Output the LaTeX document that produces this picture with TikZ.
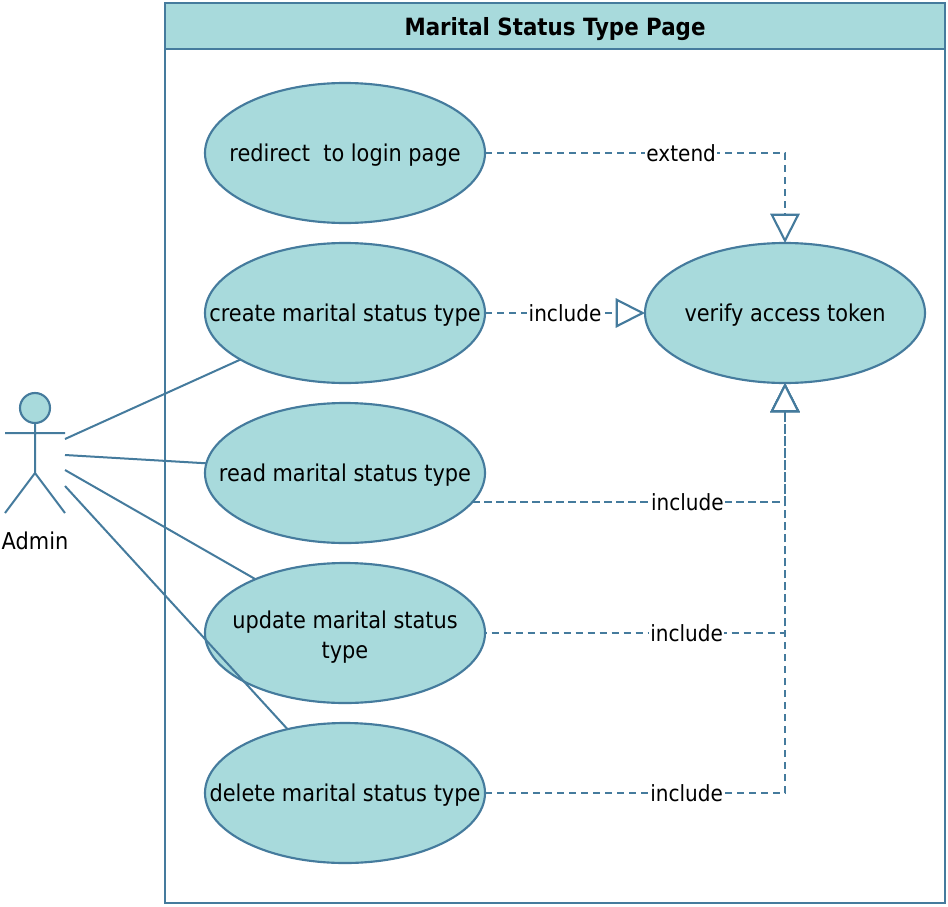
\documentclass[tikz,border=0pt]{standalone}
\usepackage{fontspec}
\setmainfont[FakeStretch=0.9]{DejaVu Sans}
\usetikzlibrary{shapes.geometric,arrows.meta}
\definecolor{fillc}{HTML}{A8DADC}
\definecolor{linec}{HTML}{457B9D}
\tikzset{x=0.75pt,y=-0.75pt,
 uc/.style={ellipse,draw=linec,fill=fillc,line width=1.6pt,outer sep=0pt,minimum width=210pt,minimum height=105pt,inner sep=-60pt,align=center,text depth=0pt,font=\fontsize{17.4}{22.5}\selectfont},
 assoc/.style={draw=linec,line width=1.5pt},
 dep/.style={draw=linec,line width=1.4pt,dash pattern=on 5.6pt off 3.4pt,-{Triangle[open,length=22pt,width=22pt,line width=1.6pt,fill=white]}},
 lab/.style={fill=white,inner xsep=1pt,inner ysep=1pt,text depth=0pt,font=\fontsize{16.7}{18}\selectfont},
 boxst/.style={draw=linec,line width=1.7pt,outer sep=0pt,minimum width=585pt,anchor=north west,inner sep=0pt}}
\begin{document}
\begin{tikzpicture}
\useasboundingbox (0,0) rectangle (948,906);
\node[boxst,fill=white,minimum height=675pt] (frame) at (165,3) {};
\node[boxst,fill=fillc,minimum height=34.5pt,text depth=0pt,font=\bfseries\fontsize{17.8}{20}\selectfont] (title) at (165,3) {Marital Status Type Page};
\node[uc] (redir) at (345,153) {redirect\ \ to login page};
\node[uc] (create) at (345,313) {create marital status type};
\node[uc] (read) at (345,473) {read marital status type};
\node[uc,text depth={}] (update) at (345,633) {\raisebox{0pt}[\dimexpr\height+6pt][\depth]{\begin{tabular}{@{}c@{}}update marital status\\type\end{tabular}}};
\node[uc] (delete) at (345,793) {delete marital status type};
\node[uc] (verify) at (785,313) {verify access token};
% actor
\node[circle,draw=linec,fill=fillc,line width=1.6pt,outer sep=0pt,minimum size=22.5pt,inner sep=0pt] (head) at (35,408) {};
\coordinate (hip) at (35,473);
\coordinate (armL) at (5,433);
\coordinate (armR) at (65,433);
\coordinate (legL) at (5,513);
\coordinate (legR) at (65,513);
\draw[assoc] (head.south) -- (hip) (armL) -- (armR) (legL) -- (hip) -- (legR);
\node[font=\fontsize{17.4}{20}\selectfont,text depth=0pt,anchor=base] (admin) at (35,549) {Admin};
\coordinate (a1) at (65,439);
\coordinate (a2) at (65,455);
\coordinate (a3) at (65,470);
\coordinate (a4) at (65,486);
\draw[assoc] (a1) -- (create.204.5);
\draw[assoc] (a2) -- (read.176.3);
\draw[assoc] (a3) -- (update.149.6);
\draw[assoc] (a4) -- (delete.132.6);
\draw[dep] (redir.east) -| node[lab,pos=.327] (l1) {extend} (verify.north);
\draw[dep] (create.east) -- node[lab] (l2) {include} (verify.west);
\draw[dep] (read.-13.5) -| node[lab,pos=.344] (l3) {include} (verify.south);
\draw[dep,dash phase=4pt] (update.east) -| node[lab,pos=.336] (l4) {include} (verify.south);
\draw[dep] (delete.east) -| node[lab,pos=.336] (l5) {include} (verify.south);
\end{tikzpicture}
\end{document}
